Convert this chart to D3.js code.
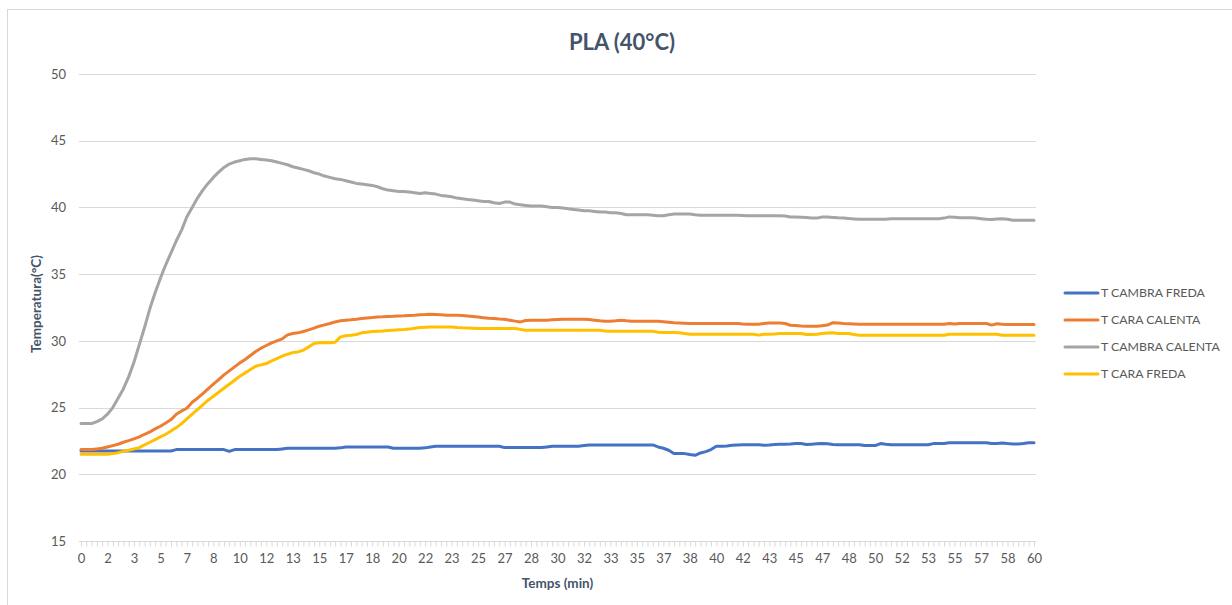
<!DOCTYPE html>
<html><head><meta charset="utf-8">
<script src="https://cdn.jsdelivr.net/npm/d3@7"></script>
<style>
html,body{margin:0;padding:0;background:#fff;}
svg{display:block;font-family:Lato,"Open Sans",sans-serif;}
</style></head>
<body>
<svg id="c" width="1232" height="605"></svg>
<script>
// Sampling: one reading every 20 s (index i -> i/3 minutes), 181 readings
const seriesNames = ["T CAMBRA FREDA","T CARA CALENTA","T CAMBRA CALENTA","T CARA FREDA"];
const seriesColors = ["#4472C4","#ED7D31","#A5A5A5","#FFC000"];
const xTickLabels = ["0","2","3","5","7","8","10","12","13","15","17","18","20","22","23","25","27","28","30","32","33","35","37","38","40","42","43","45","47","48","50","52","53","55","57","58","60"];
const yTicks = [15,20,25,30,35,40,45,50];

const cambraFreda = [
21.75,21.75,21.75,21.75,21.75,21.75,21.75,21.75,21.75,21.75,
21.75,21.75,21.75,21.75,21.75,21.75,21.75,21.75,21.85,21.85,
21.85,21.85,21.85,21.85,21.85,21.85,21.85,21.85,21.72,21.85,
21.85,21.85,21.85,21.85,21.85,21.85,21.85,21.85,21.9,21.95,
21.95,21.95,21.95,21.95,21.95,21.95,21.95,21.95,21.95,21.98,
22.05,22.05,22.05,22.05,22.05,22.05,22.05,22.05,22.05,21.95,
21.95,21.95,21.95,21.95,21.95,21.98,22.05,22.1,22.1,22.1,
22.1,22.1,22.1,22.1,22.1,22.1,22.1,22.1,22.1,22.1,
22.0,22.0,22.0,22.0,22.0,22.0,22.0,22.0,22.05,22.1,
22.1,22.1,22.1,22.1,22.1,22.15,22.2,22.2,22.2,22.2,
22.2,22.2,22.2,22.2,22.2,22.2,22.2,22.2,22.2,22.05,
21.95,21.8,21.55,21.55,21.55,21.48,21.42,21.6,21.7,21.85,
22.1,22.1,22.12,22.17,22.2,22.22,22.22,22.22,22.22,22.18,
22.2,22.24,22.25,22.25,22.27,22.3,22.3,22.24,22.26,22.28,
22.3,22.28,22.24,22.22,22.22,22.22,22.22,22.22,22.15,22.15,
22.15,22.3,22.25,22.22,22.22,22.22,22.22,22.22,22.22,22.22,
22.22,22.3,22.3,22.3,22.37,22.37,22.37,22.37,22.37,22.37,
22.37,22.37,22.3,22.3,22.35,22.3,22.27,22.27,22.3,22.37,
22.37];

const caraCalenta = [
21.85,21.85,21.85,21.9,21.95,22.05,22.15,22.25,22.4,22.52,
22.65,22.8,23.0,23.17,23.4,23.6,23.85,24.1,24.5,24.75,
24.95,25.4,25.7,26.05,26.4,26.75,27.1,27.45,27.75,28.05,
28.35,28.6,28.9,29.2,29.45,29.65,29.85,30.0,30.15,30.45,
30.55,30.6,30.7,30.82,30.95,31.1,31.2,31.3,31.42,31.5,
31.55,31.58,31.62,31.67,31.72,31.75,31.79,31.8,31.82,31.84,
31.87,31.88,31.9,31.92,31.95,31.97,32.0,31.98,31.95,31.92,
31.92,31.92,31.9,31.86,31.82,31.78,31.74,31.7,31.67,31.64,
31.62,31.55,31.48,31.42,31.52,31.54,31.54,31.54,31.54,31.58,
31.6,31.62,31.62,31.62,31.62,31.62,31.6,31.55,31.5,31.47,
31.47,31.5,31.54,31.5,31.47,31.47,31.47,31.47,31.47,31.47,
31.44,31.4,31.36,31.34,31.32,31.3,31.3,31.3,31.3,31.3,
31.3,31.3,31.3,31.3,31.3,31.26,31.24,31.24,31.24,31.3,
31.34,31.34,31.34,31.3,31.17,31.15,31.12,31.1,31.1,31.1,
31.14,31.18,31.36,31.34,31.3,31.28,31.26,31.24,31.24,31.24,
31.24,31.24,31.24,31.24,31.24,31.24,31.24,31.24,31.24,31.24,
31.24,31.24,31.24,31.24,31.3,31.26,31.3,31.3,31.3,31.3,
31.3,31.3,31.18,31.28,31.24,31.22,31.22,31.22,31.22,31.22,
31.22];

const cambraCalenta = [
23.8,23.8,23.8,23.95,24.15,24.5,25.0,25.7,26.4,27.3,
28.4,29.7,31.0,32.4,33.6,34.7,35.7,36.6,37.5,38.3,
39.3,40.0,40.7,41.3,41.8,42.25,42.65,43.0,43.25,43.4,
43.5,43.6,43.65,43.65,43.6,43.55,43.5,43.4,43.3,43.2,
43.05,42.95,42.85,42.75,42.6,42.5,42.35,42.25,42.15,42.1,
42.0,41.9,41.8,41.75,41.7,41.65,41.55,41.4,41.3,41.25,
41.2,41.2,41.15,41.1,41.05,41.1,41.05,41.0,40.9,40.85,
40.8,40.7,40.65,40.6,40.55,40.5,40.45,40.45,40.35,40.3,
40.4,40.4,40.25,40.2,40.15,40.1,40.1,40.1,40.05,40.0,
40.0,39.95,39.9,39.85,39.8,39.75,39.75,39.7,39.65,39.65,
39.6,39.6,39.55,39.45,39.45,39.45,39.45,39.45,39.42,39.38,
39.38,39.45,39.5,39.5,39.5,39.5,39.45,39.42,39.42,39.42,
39.42,39.42,39.42,39.42,39.42,39.4,39.37,39.37,39.37,39.37,
39.37,39.37,39.37,39.35,39.28,39.28,39.26,39.24,39.2,39.2,
39.28,39.28,39.25,39.22,39.2,39.17,39.14,39.11,39.11,39.11,
39.11,39.11,39.11,39.16,39.16,39.16,39.16,39.16,39.16,39.16,
39.16,39.16,39.16,39.2,39.29,39.27,39.22,39.22,39.22,39.2,
39.16,39.12,39.1,39.14,39.16,39.12,39.04,39.04,39.04,39.04,
39.04];

const caraFreda = [
21.5,21.5,21.5,21.5,21.5,21.5,21.55,21.62,21.72,21.8,
21.9,22.0,22.2,22.4,22.6,22.8,23.0,23.25,23.5,23.8,
24.15,24.5,24.85,25.2,25.55,25.85,26.15,26.45,26.75,27.05,
27.35,27.6,27.85,28.1,28.2,28.3,28.5,28.67,28.85,29.0,
29.12,29.17,29.3,29.55,29.8,29.85,29.87,29.85,29.9,30.3,
30.38,30.42,30.48,30.6,30.65,30.7,30.72,30.74,30.77,30.8,
30.83,30.85,30.88,30.95,31.0,31.02,31.03,31.04,31.04,31.04,
31.04,31.0,30.98,30.97,30.95,30.93,30.92,30.92,30.92,30.92,
30.92,30.92,30.92,30.86,30.8,30.8,30.8,30.8,30.8,30.8,
30.8,30.8,30.8,30.8,30.8,30.8,30.8,30.8,30.8,30.74,
30.72,30.72,30.72,30.72,30.72,30.72,30.72,30.72,30.72,30.65,
30.62,30.62,30.62,30.6,30.55,30.5,30.5,30.5,30.5,30.5,
30.5,30.5,30.5,30.5,30.5,30.5,30.5,30.5,30.43,30.5,
30.5,30.52,30.55,30.55,30.55,30.55,30.55,30.48,30.48,30.5,
30.55,30.58,30.6,30.55,30.55,30.55,30.48,30.42,30.42,30.42,
30.42,30.42,30.42,30.42,30.42,30.42,30.42,30.42,30.42,30.42,
30.42,30.42,30.42,30.42,30.5,30.5,30.5,30.5,30.5,30.5,
30.5,30.5,30.5,30.5,30.42,30.42,30.42,30.42,30.42,30.42,
30.42];

const allSeries = [cambraFreda, caraCalenta, cambraCalenta, caraFreda];

const svg = d3.select("#c");
const L = 81, R = 1034, T = 74, B = 541;
const nPts = cambraFreda.length;
const x = d3.scaleLinear().domain([0, nPts - 1]).range([L, R]);
const y = d3.scaleLinear().domain([15, 50]).range([B, T]);
const textCol = "#595959";
const titleCol = "#44546A";

// chart frame
svg.append("rect").attr("x", 7.5).attr("y", 9.5).attr("width", 1240).attr("height", 620)
  .attr("fill", "none").attr("stroke", "#d9d9d9").attr("stroke-width", 1);

// gridlines
svg.append("g").selectAll("line").data(yTicks.slice(1)).join("line")
  .attr("x1", L - 2).attr("x2", R + 2)
  .attr("y1", d => Math.round(y(d)) + 0.5).attr("y2", d => Math.round(y(d)) + 0.5)
  .attr("stroke", "#d9d9d9").attr("stroke-width", 1);

// y axis labels
const yAx = svg.append("g").attr("transform", `translate(${L - 2},0)`)
  .call(d3.axisLeft(y).tickValues(yTicks).tickSize(0).tickPadding(13).tickFormat(d3.format("d")));
yAx.select(".domain").remove();
yAx.selectAll("text").attr("fill", textCol).style("font-size", "13px").style("font-family", "Lato,'Open Sans',sans-serif");

// x axis with minor ticks for every reading
const xMinor = svg.append("g").attr("transform", `translate(0,${B + 0.5})`)
  .call(d3.axisBottom(x).tickValues(d3.range(nPts)).tickSize(5).tickFormat(""));
xMinor.select(".domain").attr("stroke", "#d9d9d9").attr("d", `M${L - 2},0H${R + 2}`);
xMinor.selectAll(".tick line").attr("stroke", "#d9d9d9");

const labelIdx = xTickLabels.map((_, k) => k * 5);
const xLab = svg.append("g").attr("transform", `translate(0,${B})`)
  .call(d3.axisBottom(x).tickValues(labelIdx).tickSize(0).tickPadding(13)
    .tickFormat((d, k) => xTickLabels[k]));
xLab.select(".domain").remove();
xLab.selectAll("text").attr("fill", textCol).style("font-size", "13px").style("font-family", "Lato,'Open Sans',sans-serif");

// lines
const line = d3.line().x((d, i) => x(i)).y(d => y(d)).curve(d3.curveLinear);
svg.append("g").selectAll("path").data(allSeries).join("path")
  .attr("d", d => line(d)).attr("fill", "none")
  .attr("stroke", (d, k) => seriesColors[k]).attr("stroke-width", 3)
  .attr("stroke-linejoin", "round").attr("stroke-linecap", "round");

// title
svg.append("text").attr("x", 622).attr("y", 50).attr("text-anchor", "middle")
  .attr("fill", titleCol).style("font-size", "22px").style("font-weight", "bold")
  .text("PLA (40°C)");

// axis titles
svg.append("text").attr("x", (L + R) / 2).attr("y", 588).attr("text-anchor", "middle")
  .attr("fill", titleCol).style("font-size", "13.5px").style("font-weight", "bold")
  .text("Temps (min)");
svg.append("text").attr("transform", "translate(41,304) rotate(-90)").attr("text-anchor", "middle")
  .attr("fill", titleCol).style("font-size", "13.5px").style("font-weight", "bold")
  .text("Temperatura(°C)");

// legend
const lg = svg.append("g").selectAll("g").data(seriesNames).join("g")
  .attr("transform", (d, k) => `translate(1065,${293 + k * 27})`);
lg.append("line").attr("x1", 0).attr("x2", 33).attr("y1", 0).attr("y2", 0)
  .attr("stroke", (d, k) => seriesColors[k]).attr("stroke-width", 3).attr("stroke-linecap", "round");
lg.append("text").attr("x", 36).attr("y", 0).attr("dy", "0.35em")
  .attr("fill", textCol).style("font-size", "12.3px").text(d => d);
</script>
</body></html>
